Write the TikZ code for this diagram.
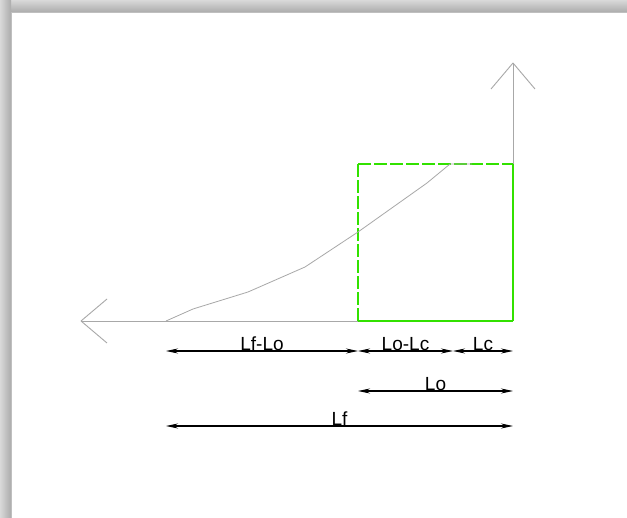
\documentclass[tikz,border=0pt]{standalone}
\usepackage{fontspec}
\setmainfont{Liberation Sans}
\usetikzlibrary{arrows.meta, positioning, calc}
\definecolor{cadgreen}{RGB}{50,225,0}
\definecolor{cadgray}{RGB}{168,168,168}
\tikzset{
  %% Axis and curve lines
  axis/.style={draw=cadgray, line width=0.9pt},
  %% Green frame
  frame/.style={draw=cadgreen, line width=1.3pt},
  framedash/.style={frame, dash pattern=on 13pt off 3pt},
  %% Dimension line
  dim/.style={{Stealth[length=12pt,width=5pt]}-{Stealth[length=12pt,width=5pt]},
              draw=black, line width=1.1pt},
  %% Dimension label
  dimlbl/.style={font=\fontsize{19}{21}\selectfont, inner sep=0pt,
                 anchor=base, text=black},
}
\begin{document}
\begin{tikzpicture}[x=1pt, y=-1pt]
  \useasboundingbox (0,0) rectangle (627,518);

  %% Page with shadow
  \shade[top color=gray!30, bottom color=gray!65] (0,0) rectangle (627,12);
  \shade[left color=gray!30, right color=gray!65] (0,0) rectangle (11,518);
  \fill[white] (11,12) rectangle (627,518);
  \draw[gray!50, line width=0.8pt] (11,518) -- (11,12) -- (627,12);

  %% Key points
  \coordinate (O)    at (513,321);
  \coordinate (xtip) at (81,321);
  \coordinate (ytip) at (513,63);
  \coordinate (S)    at (166,321);
  \coordinate (C)    at (358,321);
  \coordinate (CT)   at (358,164);
  \coordinate (T)    at (513,164);
  \coordinate (E)    at (450,164);

  %% Axes
  \draw[axis] (O) -- (xtip);
  \draw[axis] (xtip) -- ++(26,-22);
  \draw[axis] (xtip) -- ++(26,22);
  \draw[axis] (T) -- (ytip);
  \draw[axis] (ytip) -- ++(-22,26);
  \draw[axis] (ytip) -- ++(22,26);

  %% Green frame
  \draw[frame] (C) -- (O);
  \draw[frame] (O) -- (T);
  \draw[framedash] (C) -- (CT);
  \draw[framedash] (CT) -- (T);

  %% Curve
  \draw[axis, line width=0.8pt] (S) -- (193,309) -- (248,292) -- (305,267)
        -- (358,232) -- (427,183) -- (E) -- (472,164);

  %% Dimensions
  \coordinate (a1) at (166,351);
  \coordinate (b1) at (358,351);
  \coordinate (c1) at (453,351);
  \coordinate (d1) at (513,351);
  \coordinate (b2) at (358,391);
  \coordinate (d2) at (513,391);
  \coordinate (a3) at (166,426);
  \coordinate (d3) at (513,426);

  \draw[dim] (a1) -- node[dimlbl] {Lf-Lo} (b1);
  \draw[dim] (b1) -- node[dimlbl] {Lo-Lc} (c1);
  \draw[dim] (c1) -- node[dimlbl] {Lc} (d1);
  \draw[dim] (b2) -- node[dimlbl] {Lo} (d2);
  \draw[dim] (a3) -- node[dimlbl] {Lf} (d3);

\end{tikzpicture}
\end{document}
